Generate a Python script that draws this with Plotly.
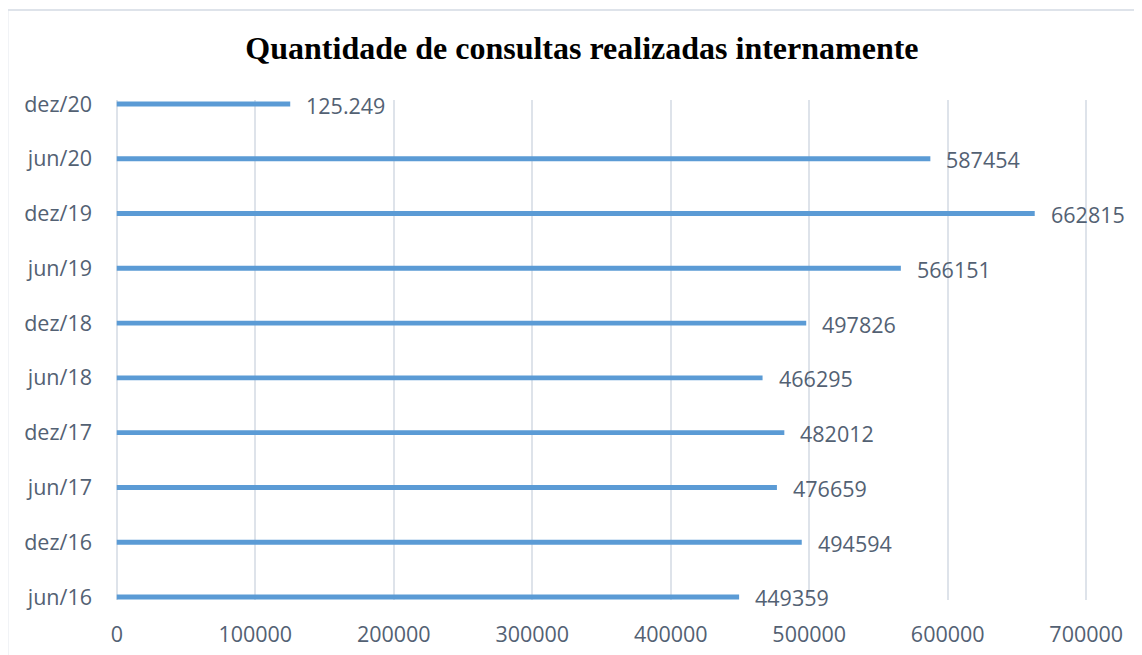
import plotly.graph_objects as go

# Semesters, bottom to top
periodos = ['jun/16', 'dez/16', 'jun/17', 'dez/17', 'jun/18',
            'dez/18', 'jun/19', 'dez/19', 'jun/20', 'dez/20']
consultas = [449359, 494594, 476659, 482012, 466295,
             497826, 566151, 662815, 587454, 125249]
rotulos = ['449359', '494594', '476659', '482012', '466295',
           '497826', '566151', '662815', '587454', '125.249']
x_ticks = [0, 100000, 200000, 300000, 400000, 500000, 600000, 700000]

azul = '#5B9BD5'
cinza_texto = '#536173'
grade = '#DEE3EA'
fonte = 'Open Sans'

fig = go.Figure()
fig.add_trace(go.Bar(
    x=consultas, y=periodos, orientation='h',
    marker=dict(color=azul, line=dict(width=0)),
    width=0.09,
    hoverinfo='x+y',
))

# data labels to the right of each bar
for v, p, t in zip(consultas, periodos, rotulos):
    fig.add_annotation(x=v, y=p, text=t, showarrow=False,
                       xanchor='left', yanchor='middle', xshift=14, yshift=-1,
                       font=dict(family=fonte, size=21.5, color=cinza_texto))

# outer chart border (Excel style)
fig.add_shape(type='line', xref='paper', yref='paper',
              x0=-0.1093, x1=1.2, y0=1.18, y1=1.18,
              line=dict(color=grade, width=2))
fig.add_shape(type='line', xref='paper', yref='paper',
              x0=-0.1093, x1=-0.1093, y0=1.18, y1=-0.2,
              line=dict(color=grade, width=2))

# page has an 8px body margin, so the figure is shifted by 8px
fig.update_layout(
    width=1142, height=655,
    margin=dict(l=106, r=61, t=92, b=63),
    paper_bgcolor='white', plot_bgcolor='white',
    showlegend=False,
    title=dict(text='<b>Quantidade de consultas realizadas internamente</b>',
               x=0.5026, xanchor='center', y=0.939, yanchor='middle',
               font=dict(family='Liberation Serif', size=32, color='black')),
    xaxis=dict(range=[-2000, 702000], tickvals=x_ticks,
               ticktext=[str(v) for v in x_ticks],
               showgrid=True, gridcolor=grade, gridwidth=2,
               zeroline=False, showline=False, ticks='',
               ticklabelstandoff=19,
               tickfont=dict(family=fonte, size=21.5, color=cinza_texto)),
    yaxis=dict(type='category', categoryorder='array', categoryarray=periodos,
               range=[-0.055, 9.073],
               showgrid=False, zeroline=False, showline=False, ticks='',
               ticklabelstandoff=21,
               tickfont=dict(family=fonte, size=21.5, color=cinza_texto)),
)

fig.write_html('out.html')
